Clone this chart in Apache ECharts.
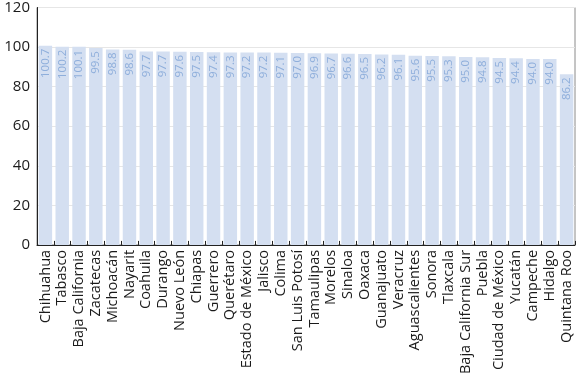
<!DOCTYPE html>
<html><head><meta charset="utf-8">
<script src="https://cdn.jsdelivr.net/npm/echarts@6/dist/echarts.min.js"></script>
<style>html,body{margin:0;padding:0;background:#fff}#c{width:579px;height:377px}</style>
</head><body><div id="c"></div>
<script>
const categories = ["Chihuahua","Tabasco","Baja California","Zacatecas","Michoacán","Nayarit","Coahuila","Durango","Nuevo León","Chiapas","Guerrero","Querétaro","Estado de México","Jalisco","Colima","San Luis Potosí","Tamaulipas","Morelos","Sinaloa","Oaxaca","Guanajuato","Veracruz","Aguascalientes","Sonora","Tlaxcala","Baja California Sur","Puebla","Ciudad de México","Yucatán","Campeche","Hidalgo","Quintana Roo"];
const values = [100.7,100.2,100.1,99.5,98.8,98.6,97.7,97.7,97.6,97.5,97.4,97.3,97.2,97.2,97.1,97.0,96.9,96.7,96.6,96.5,96.2,96.1,95.6,95.5,95.3,95.0,94.8,94.5,94.4,94.0,94.0,86.2];
const yTicks = [0,20,40,60,80,100,120];
const FONT = '"Open Sans", "Noto Sans", sans-serif';
const chart = echarts.init(document.getElementById('c'));
chart.setOption({
  animation: false,
  grid: {left: 37, right: 4, top: 6, bottom: 131, show: true, borderColor: '#8a8a8a', borderWidth: 1, containLabel: false},
  xAxis: {
    type: 'category', data: categories,
    axisLine: {lineStyle: {color: '#222', width: 1}},
    axisTick: {show: true, inside: true, length: 4, alignWithLabel: false, lineStyle: {color: '#222'}},
    axisLabel: {rotate: 90, interval: 0, fontSize: 14.5, color: '#1a1a1a', fontFamily: FONT, margin: 5}
  },
  yAxis: {
    type: 'value', min: 0, max: 120, interval: 20,
    axisLine: {show: true, lineStyle: {color: '#222'}},
    axisTick: {show: false},
    axisLabel: {fontSize: 15, color: '#1a1a1a', fontFamily: FONT, margin: 7,
      formatter: v => yTicks.includes(v) ? String(v) : ''},
    splitLine: {lineStyle: {color: '#e6e6e6'}}
  },
  series: [{
    type: 'bar', data: values, barCategoryGap: '20%',
    itemStyle: {color: '#d4dff1'},
    label: {show: true, position: 'insideTop', rotate: 90, align: 'right', verticalAlign: 'middle',
      distance: 3, fontSize: 11.5, color: '#8eaedb', fontFamily: FONT,
      formatter: p => p.value.toFixed(1)}
  }]
});
</script></body></html>
